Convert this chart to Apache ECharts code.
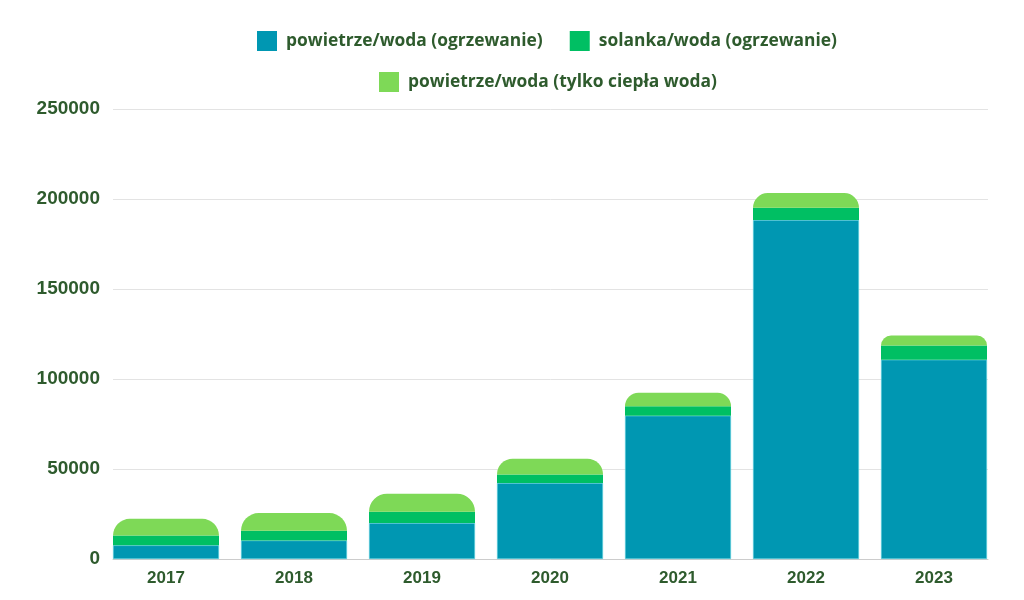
<!DOCTYPE html>
<html>
<head>
<meta charset="utf-8">
<script src="https://cdn.jsdelivr.net/npm/echarts@6/dist/echarts.min.js"></script>
<style>
  html, body { margin: 0; padding: 0; background: #fff; }
  #main { width: 1024px; height: 600px; }
</style>
</head>
<body>
<div id="main"></div>
<script>
// dane
var years = ['2017', '2018', '2019', '2020', '2021', '2022', '2023'];
var powietrzeOgrz = [7600, 10300, 20000, 42200, 79600, 188300, 110700];
var solankaOgrz = [5400, 5400, 6300, 4800, 5200, 6800, 7900];
var powietrzeCwu = [9300, 9800, 10000, 8700, 7500, 8200, 5600];
var yTicks = [0, 50000, 100000, 150000, 200000, 250000];

var textColor = '#2e5b2d';
var chart = echarts.init(document.getElementById('main'));

var legendText = {
  color: textColor,
  fontSize: 17.4,
  fontWeight: 'bold',
  fontFamily: 'Open Sans',
  padding: [0, 0, 0, 4]
};

// siatka 0: słupki (kategorie szersze niż linie siatki)
// siatka 1: oś Y z liniami od krawędzi pierwszego do ostatniego słupka
var option = {
  animation: false,
  legend: [
    {
      top: 26,
      left: 252,
      icon: 'rect',
      itemWidth: 20,
      itemHeight: 20,
      itemGap: 27,
      itemStyle: { borderWidth: 0 },
      textStyle: legendText,
      data: ['powietrze/woda (ogrzewanie)', 'solanka/woda (ogrzewanie)']
    },
    {
      top: 67,
      left: 374,
      icon: 'rect',
      itemWidth: 20,
      itemHeight: 20,
      itemStyle: { borderWidth: 0 },
      textStyle: legendText,
      data: ['powietrze/woda (tylko ciepła woda)']
    }
  ],
  grid: [
    { left: 102, right: 26, top: 109, bottom: 41 },
    { left: 113, right: 36, top: 109, bottom: 41 }
  ],
  xAxis: [
    {
      type: 'category',
      gridIndex: 0,
      data: years,
      axisTick: { show: false },
      axisLine: { show: false },
      axisLabel: {
        color: textColor,
        fontSize: 17,
        fontWeight: 'bold',
        fontFamily: 'Liberation Sans',
        margin: 11
      }
    },
    {
      type: 'category',
      gridIndex: 1,
      data: years,
      axisTick: { show: false },
      axisLabel: { show: false },
      axisLine: { lineStyle: { color: '#cccccc' } }
    }
  ],
  yAxis: [
    {
      type: 'value',
      gridIndex: 0,
      min: yTicks[0],
      max: yTicks[yTicks.length - 1],
      interval: 50000,
      show: false,
      splitLine: { show: false }
    },
    {
      type: 'value',
      gridIndex: 1,
      min: yTicks[0],
      max: yTicks[yTicks.length - 1],
      interval: 50000,
      axisLine: { show: false },
      axisTick: { show: false },
      splitLine: { lineStyle: { color: '#e3e3e3' } },
      axisLabel: {
        formatter: function (v) { return String(v); },
        color: textColor,
        fontSize: 19,
        fontWeight: 'bold',
        fontFamily: 'Liberation Sans',
        padding: [4, 0, 0, 0],
        margin: 13
      }
    }
  ],
  series: [
    {
      name: 'powietrze/woda (ogrzewanie)',
      type: 'bar',
      stack: 'suma',
      barWidth: 106,
      z: 3,
      itemStyle: { color: '#0097b2', borderColor: '#5fd3e0', borderWidth: 0.6 },
      data: powietrzeOgrz
    },
    {
      name: 'solanka/woda (ogrzewanie)',
      type: 'bar',
      stack: 'suma',
      barWidth: 106,
      z: 3,
      itemStyle: { color: '#00bf63' },
      data: solankaOgrz
    },
    {
      name: 'powietrze/woda (tylko ciepła woda)',
      type: 'bar',
      stack: 'suma',
      barWidth: 106,
      z: 3,
      itemStyle: { color: '#7ed957', borderRadius: [18, 18, 0, 0] },
      data: powietrzeCwu
    }
  ]
};

chart.setOption(option);
</script>
</body>
</html>
